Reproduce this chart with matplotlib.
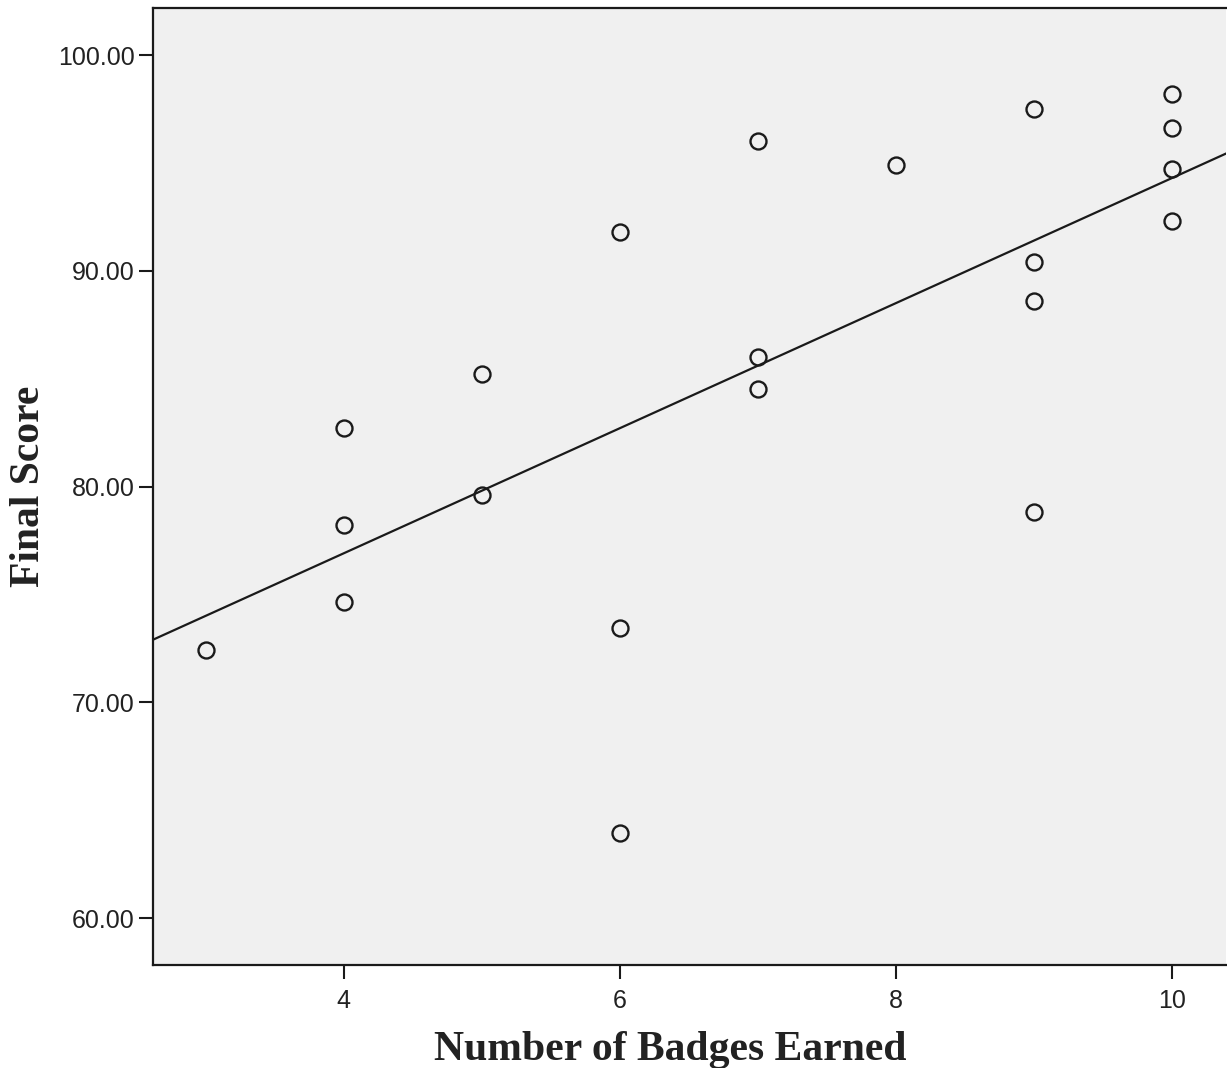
import matplotlib.pyplot as plt
import numpy as np

# badges earned vs final score
badges = [3, 4, 4, 4, 5, 5, 6, 6, 6, 7, 7, 7, 8, 9, 9, 9, 9, 10, 10, 10, 10]
scores = [72.42, 82.71, 78.22, 74.65, 85.21, 79.61, 91.80, 73.44, 63.94,
          96.01, 86.00, 84.52, 94.90, 97.50, 90.41, 88.60, 78.82,
          98.19, 96.62, 94.72, 92.31]
x_ticks = [4, 6, 8, 10]
y_ticks = [60, 70, 80, 90, 100]

fig = plt.figure(figsize=(12.27, 10.68), dpi=100)
ax = fig.add_axes([0.1247, 0.0964, 0.8745, 0.8961])
ax.set_facecolor("#f0f0f0")

xlim = (2.618, 10.39)
ylim = (57.82, 102.18)

# fit line across the whole plot
slope, intercept = np.polyfit(badges, scores, 1)
xs = np.array(xlim)
ax.plot(xs, slope * xs + intercept, color="#1a1a1a", lw=1.6)

ax.plot(badges, scores, "o", ms=11.5, mfc="none", mec="#1a1a1a", mew=1.7)

ax.set_xlim(*xlim)
ax.set_ylim(*ylim)
ax.set_xticks(x_ticks)
ax.set_yticks(y_ticks)
ax.set_yticklabels(["%.2f" % v for v in y_ticks])
ax.tick_params(length=10, width=1.5, color="#1a1a1a", labelsize=18,
               labelcolor="#222222")
ax.tick_params(axis="y", pad=3)
ax.tick_params(axis="x", pad=7)
for lab in ax.get_xticklabels() + ax.get_yticklabels():
    lab.set_family("Liberation Sans")

for side in ["left", "bottom", "top"]:
    ax.spines[side].set_linewidth(1.6)
    ax.spines[side].set_color("#1a1a1a")
ax.spines["right"].set_visible(False)

ax.set_xlabel("Number of Badges Earned", family="Liberation Serif",
              fontweight="bold", fontsize=30, color="#222222", labelpad=13)
ax.set_ylabel("Final Score", family="Liberation Serif",
              fontweight="bold", fontsize=30, color="#222222", labelpad=7)
ax.xaxis.label.set_x(0.482)

plt.savefig("out.png", dpi=100)
